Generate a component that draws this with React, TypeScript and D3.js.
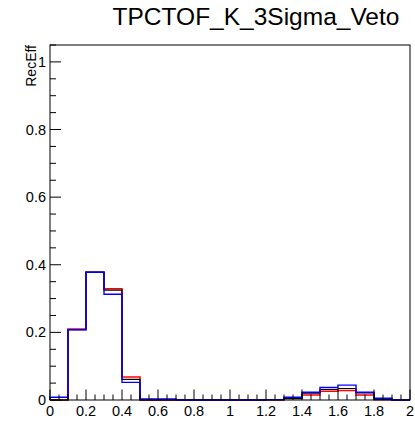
import React from "react";
import * as d3 from "d3";

const binEdges = [0, 0.1, 0.2, 0.3, 0.4, 0.5, 0.6, 0.7, 0.8, 0.9, 1.0, 1.1, 1.2, 1.3, 1.4, 1.5, 1.6, 1.7, 1.8, 1.9, 2.0];
const blackValues = [0.0, 0.208, 0.378, 0.325, 0.061, 0.0, 0.0, 0.0, 0.0, 0.0, 0.0, 0.0, 0.001, 0.004, 0.02, 0.031, 0.034, 0.021, 0.002, 0.0];
const redValues = [0.0, 0.21, 0.378, 0.329, 0.068, 0.0, 0.0, 0.0, 0.0, 0.0, 0.0, 0.0, 0.0, 0.005, 0.015, 0.026, 0.028, 0.015, 0.001, 0.0];
const blueValues = [0.008, 0.208, 0.378, 0.313, 0.052, 0.003, 0.003, 0.0, 0.0, 0.0, 0.0, 0.0, 0.001, 0.008, 0.023, 0.037, 0.044, 0.023, 0.005, 0.0];
const xTickLabels = ["0", "0.2", "0.4", "0.6", "0.8", "1", "1.2", "1.4", "1.6", "1.8", "2"];
const yTickLabels = ["0", "0.2", "0.4", "0.6", "0.8", "1"];

const W = 415;
const H = 421;
const FONT = "'Liberation Sans', Arial, Helvetica, sans-serif";

export default function App() {
  const x = d3.scaleLinear().domain([0, 2]).range([50, 410]);
  const y = d3.scaleLinear().domain([0, 1.05]).range([400, 45]);

  const histPath = (vals: number[]) => {
    const pts: [number, number][] = [[binEdges[0], 0]];
    vals.forEach((v, i) => {
      pts.push([binEdges[i], v]);
      pts.push([binEdges[i + 1], v]);
    });
    pts.push([binEdges[binEdges.length - 1], 0]);
    return d3
      .line<[number, number]>()
      .x((d) => x(d[0]))
      .y((d) => y(d[1]))(pts) as string;
  };

  const xMinor = d3.range(0, 2.0001, 0.05);
  const yMinor = d3.range(0, 1.0501, 0.05);

  return (
    <svg width={W} height={H} style={{ position: "absolute", left: 0, top: 0 }} fontFamily={FONT}>
      <rect x={0} y={0} width={W} height={H} fill="#fff" />
      <text x={256} y={25} textAnchor="middle" fontSize={24.5} fill="#000">
        TPCTOF_K_3Sigma_Veto
      </text>
      {/* histograms */}
      <path d={histPath(redValues)} fill="none" stroke="#ff0000" strokeWidth={1.5} />
      <path d={histPath(blackValues)} fill="none" stroke="#000000" strokeWidth={1.2} />
      <path d={histPath(blueValues)} fill="none" stroke="#0000ff" strokeWidth={1.4} />
      {/* frame */}
      <rect x={x(0)} y={y(1.05)} width={x(2) - x(0)} height={y(0) - y(1.05)} fill="none" stroke="#000" strokeWidth={1} />
      {/* x ticks */}
      {xMinor.map((t, i) => {
        const major = i % 4 === 0;
        return (
          <line key={"xt" + i} x1={x(t)} x2={x(t)} y1={y(0)} y2={y(0) - (major ? 10.5 : 5.5)} stroke="#000" strokeWidth={1} />
        );
      })}
      {xTickLabels.map((l, i) => (
        <text key={"xl" + i} x={x(i * 0.2)} y={416} textAnchor="middle" fontSize={14.5} fill="#000">
          {l}
        </text>
      ))}
      {/* y ticks */}
      {yMinor.map((t, i) => {
        const major = i % 4 === 0;
        return (
          <line key={"yt" + i} x1={x(0)} x2={x(0) + (major ? 11 : 6)} y1={y(t)} y2={y(t)} stroke="#000" strokeWidth={1} />
        );
      })}
      {yTickLabels.map((l, i) => (
        <text key={"yl" + i} x={46} y={y(i * 0.2) + 5} textAnchor="end" fontSize={14.5} fill="#000">
          {l}
        </text>
      ))}
      <text transform={`translate(36,45) rotate(-90)`} textAnchor="end" fontSize={14} fill="#000">
        RecEff
      </text>
    </svg>
  );
}
